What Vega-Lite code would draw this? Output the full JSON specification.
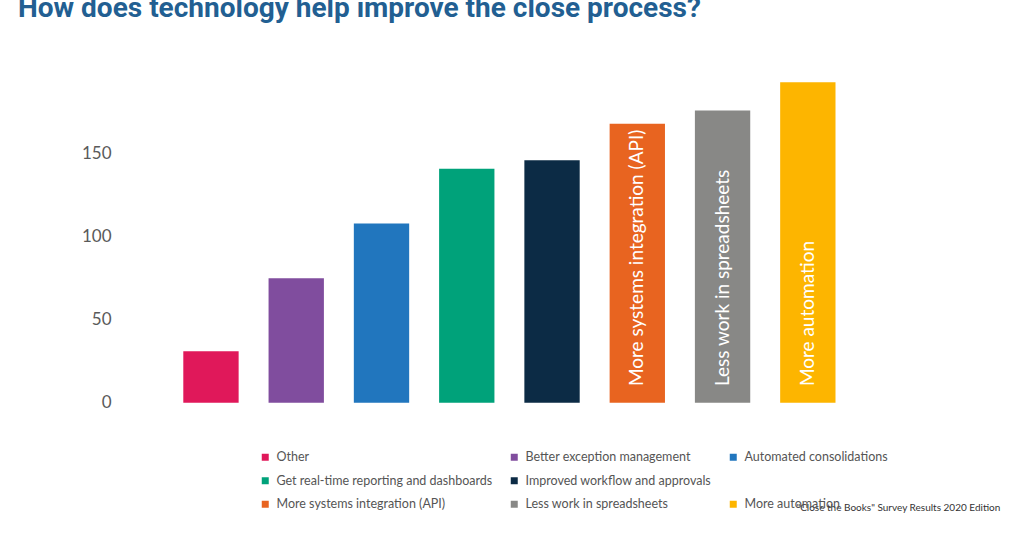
{
  "$schema": "https://vega.github.io/schema/vega-lite/v6.json",
  "width": 1024,
  "height": 538,
  "autosize": {"type": "none"},
  "padding": 0,
  "background": "#225f92",
  "view": {"stroke": null, "fill": "#ffffff"},
  "title": {
    "text": "How does technology help improve the close process?",
    "anchor": "start",
    "frame": "group",
    "offset": 0,
    "dy": 45,
    "baseline": "alphabetic",
    "dx": 18,
    "color": "#225f92",
    "font": "Roboto",
    "fontSize": 28,
    "fontWeight": "bold"
  },
  "datasets": {
    "bars": [
      {"category": "Other", "value": 31},
      {"category": "Better exception management", "value": 75},
      {"category": "Automated consolidations", "value": 108},
      {"category": "Get real-time reporting and dashboards", "value": 141},
      {"category": "Improved workflow and approvals", "value": 146},
      {"category": "More systems integration (API)", "value": 168, "inbar": "More systems integration (API)"},
      {"category": "Less work in spreadsheets", "value": 176, "inbar": "Less work in spreadsheets"},
      {"category": "More automation", "value": 193, "inbar": "More  automation"}
    ],
    "one": [{"k": 1}]
  },
  "data": {"name": "bars"},
  "layer": [
    {
      "mark": {"type": "bar"},
      "encoding": {
        "x": {
          "field": "category",
          "type": "nominal",
          "axis": null,
          "scale": {
            "domain": ["Other", "Better exception management", "Automated consolidations", "Get real-time reporting and dashboards", "Improved workflow and approvals", "More systems integration (API)", "Less work in spreadsheets", "More automation"],
            "range": [183.3, 835.5],
            "paddingInner": 0.351,
            "paddingOuter": 0
          }
        },
        "y": {
          "field": "value",
          "type": "quantitative",
          "scale": {"domain": [-81.5, 242.6], "nice": false, "zero": false},
          "axis": {
            "values": [0, 50, 100, 150],
            "offset": -111,
            "domain": false,
            "ticks": false,
            "grid": false,
            "labelPadding": 0,
            "labelFont": "Lato",
            "labelFontSize": 17,
            "labelColor": "#5a5a5a",
            "title": null
          }
        },
        "color": {
          "field": "category",
          "type": "nominal",
          "scale": {
            "domain": ["Other", "Better exception management", "Automated consolidations", "Get real-time reporting and dashboards", "Improved workflow and approvals", " ", "More systems integration (API)", "Less work in spreadsheets", "More automation"],
            "range": ["#e0185a", "#804d9e", "#2176be", "#00a27a", "#0c2b45", "transparent", "#e86420", "#888886", "#fdb500"]
          },
          "legend": {
            "orient": "none",
            "legendX": 259,
            "legendY": 451,
            "direction": "horizontal",
            "columns": 3,
            "gridAlign": "none",
            "symbolType": "square",
            "symbolSize": 49,
            "symbolStrokeWidth": 0,
            "labelFont": "Lato",
            "labelFontSize": 12.5,
            "labelColor": "#555555",
            "labelOffset": 5,
            "labelLimit": 400,
            "columnPadding": 15,
            "rowPadding": 10.5,
            "padding": 0,
            "title": null
          }
        }
      }
    },
    {
      "transform": [{"filter": "datum.inbar != null"}],
      "mark": {"type": "text", "angle": 270, "align": "left", "baseline": "middle", "fill": "#ffffff", "font": "Lato", "fontSize": 19},
      "encoding": {
        "x": {"field": "category", "type": "nominal"},
        "y": {"datum": 10, "type": "quantitative"},
        "text": {"field": "inbar"}
      }
    },
    {
      "data": {"name": "one"},
      "mark": {"type": "text", "align": "right", "baseline": "middle", "fill": "#333333", "font": "Lato", "fontSize": 10},
      "encoding": {
        "x": {"datum": "More automation", "type": "nominal", "bandPosition": 3.978},
        "y": {"datum": -63.4, "type": "quantitative"},
        "text": {"value": "\"Close the Books\" Survey Results 2020 Edition"}
      }
    }
  ]
}
